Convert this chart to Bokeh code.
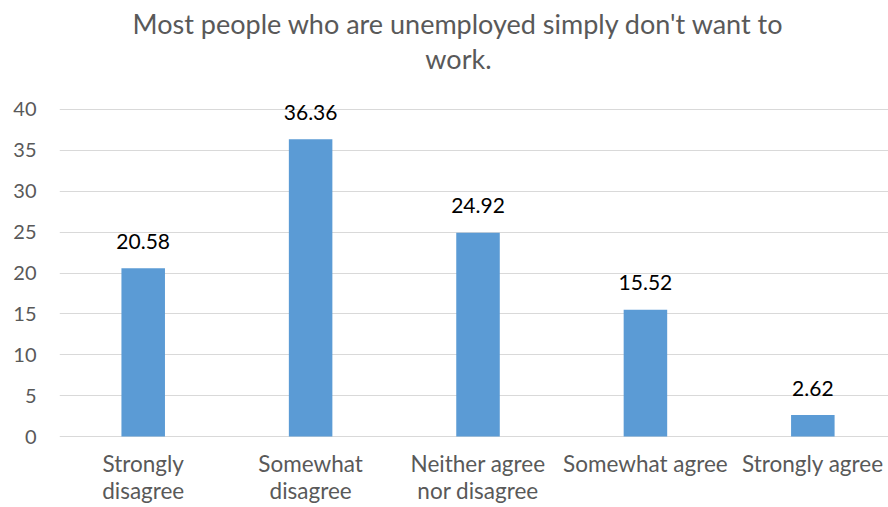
from bokeh.plotting import figure
from bokeh.models import Range1d, FixedTicker, ColumnDataSource, LabelSet, Label
from bokeh.core.properties import value
from bokeh.embed import file_html
from bokeh.resources import INLINE

# ---- data ----
categories = ["Strongly\ndisagree", "Somewhat\ndisagree", "Neither agree\nnor disagree",
              "Somewhat agree", "Strongly agree"]
values = [20.58, 36.36, 24.92, 15.52, 2.62]
value_labels = ["20.58", "36.36", "24.92", "15.52", "2.62"]
y_ticks = [0, 5, 10, 15, 20, 25, 30, 35, 40]
title_lines = ["Most people who are unemployed simply don't want to", "work."]

FONT = "Lato"
GRAY = "#595959"
BAR = "#5B9BD5"

xs = list(range(len(categories)))
src = ColumnDataSource(dict(x=xs, top=values, label=value_labels))

p = figure(frame_width=829, frame_height=437, output_backend="svg", toolbar_location=None,
           x_range=Range1d(-0.5, 4.452), y_range=Range1d(-0.122, 53.333),
           min_border_left=59, min_border_right=0, min_border_top=0, min_border_bottom=0)
p.outline_line_color = None
p.background_fill_color = "white"
p.border_fill_color = "white"

p.vbar(x="x", top="top", width=0.26, bottom=0, source=src, fill_color=BAR, line_color=None)

p.xgrid.grid_line_color = None
p.ygrid.grid_line_color = "#D9D9D9"
p.ygrid.grid_line_width = 1
p.ygrid.ticker = FixedTicker(ticks=y_ticks)

p.yaxis.ticker = FixedTicker(ticks=y_ticks)
p.yaxis.axis_line_color = None
p.yaxis.major_tick_line_color = None
p.yaxis.minor_tick_line_color = None
p.yaxis.major_tick_out = 0
p.yaxis.major_tick_in = 0
p.yaxis.major_label_standoff = 23
p.yaxis.major_label_text_font = FONT
p.yaxis.major_label_text_font_size = "20px"
p.yaxis.major_label_text_color = GRAY

p.xaxis.ticker = FixedTicker(ticks=xs)
p.xaxis.major_label_overrides = {i: c for i, c in zip(xs, categories)}
p.xaxis.axis_line_color = None
p.xaxis.major_tick_line_color = None
p.xaxis.minor_tick_line_color = None
p.xaxis.major_tick_out = 0
p.xaxis.major_tick_in = 0
p.xaxis.major_label_standoff = 12
p.xaxis.major_label_text_font = FONT
p.xaxis.major_label_text_font_size = "22.5px"
p.xaxis.major_label_text_color = GRAY
p.xaxis.major_label_text_line_height = 1.0

labels = LabelSet(x="x", y="top", text="label", source=src, y_offset=19.5,
                  text_align="center", text_baseline="alphabetic",
                  text_font=value(FONT), text_font_size="21px", text_color="black")
p.add_layout(labels)

title_y = [50.58, 46.18]
for t, ty in zip(title_lines, title_y):
    p.add_layout(Label(x=1.883, y=ty, text=t, text_align="center", text_baseline="alphabetic",
                       text_font=FONT, text_font_size="27px", text_color=GRAY))

open("out.html", "w").write(file_html(p, INLINE))
